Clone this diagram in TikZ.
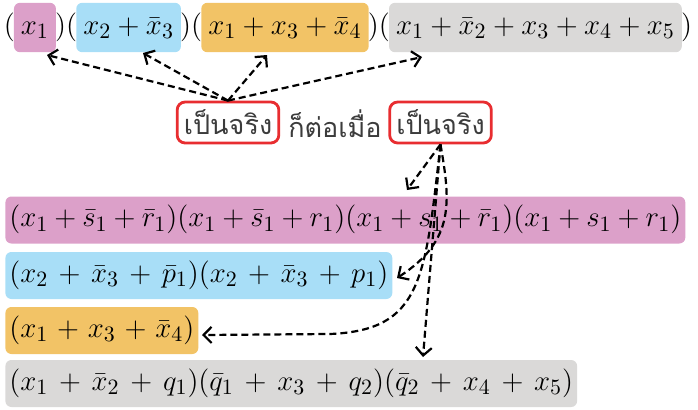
\documentclass[tikz,border=0pt]{standalone}
\usepackage{fontspec}
\newfontfamily\thaifont[Script=Thai]{Loma}
\usetikzlibrary{arrows.meta, positioning}
\definecolor{pinkhl}{RGB}{220,160,201}
\definecolor{bluehl}{RGB}{168,222,247}
\definecolor{orangehl}{RGB}{242,195,102}
\definecolor{grayhl}{RGB}{218,217,216}
\definecolor{redline}{RGB}{232,45,48}
\definecolor{thaigray}{RGB}{60,60,60}

\begin{document}
\begin{tikzpicture}[
    x=0.5pt, y=-0.5pt,
    every node/.style={font=\fontsize{15}{18}\selectfont},
    cell/.style={fill=#1, rounded corners=3pt, inner xsep=3.5pt, inner ysep=5pt, text height=10.8pt, text depth=3.9pt},
    bare/.style={inner xsep=-0.8pt, inner ysep=5pt, text height=10.8pt, text depth=3.9pt},
    row/.style={fill=#1, rounded corners=3pt, anchor=west, inner xsep=2pt, inner ysep=4.4pt, text height=10.8pt, text depth=3.9pt},
    truebox/.style={draw=redline, line width=1.4pt, rounded corners=4pt, minimum width=50pt, minimum height=20.5pt, font=\thaifont\fontsize{13.5}{15}\selectfont, text=thaigray},
    link/.style={line width=1.1pt, dash pattern=on 3.5pt off 2pt, -{Straight Barb[length=4pt, width=8pt]}}
  ]
    \useasboundingbox (0,0) rectangle (698,409);

    % the formula
    \node[bare, anchor=west] (o1) at (5,27.5) {$($};
    \node[cell=pinkhl, right=0pt of o1] (f1) {$x_1$};
    \node[bare, right=0pt of f1] (o2) {$)($};
    \node[cell=bluehl, right=0pt of o2] (f2) {$x_2+\bar{x}_3$};
    \node[bare, right=0pt of f2] (o3) {$)($};
    \node[cell=orangehl, right=0pt of o3] (f3) {$x_1+x_3+\bar{x}_4$};
    \node[bare, right=0pt of f3] (o4) {$)($};
    \node[cell=grayhl, right=0pt of o4] (f4) {$x_1+\bar{x}_2+x_3+x_4+x_5$};
    \node[bare, right=0pt of f4] (o5) {$)$};

    % the sentence
    \node[truebox] (q1) at (228,122.5) {เป็นจริง};
    \node[font=\thaifont\fontsize{13.5}{15}\selectfont, text=thaigray] (iff) at (335,124) {ก็ต่อเมื่อ};
    \node[truebox] (q2) at (440.5,122.5) {เป็นจริง};

    % the clauses
    \node[row=pinkhl] (g1) at (5,220) {$\medmuskip=3.8mu (x_1+\bar{s}_1+\bar{r}_1)(x_1+\bar{s}_1+r_1)(x_1+s_1+\bar{r}_1)(x_1+s_1+r_1)$};
    \node[row=bluehl] (g2) at (5,275.5) {$\medmuskip=6.5mu (x_2+\bar{x}_3+\bar{p}_1)(x_2+\bar{x}_3+p_1)$};
    \node[row=orangehl] (g3) at (5,330.5) {$\medmuskip=5.5mu (x_1+x_3+\bar{x}_4)$};
    \node[row=grayhl] (g4) at (5,383.5) {$\medmuskip=6.7mu (x_1+\bar{x}_2+q_1)(\bar{q}_1+x_3+q_2)(\bar{q}_2+x_4+x_5)$};

    \coordinate (t1) at (47,55);
    \coordinate (t2) at (143,53);
    \coordinate (t3) at (267,55);
    \coordinate (t4) at (422,57);
    \coordinate (u1) at (407,190);
    \coordinate (u2) at (397,278);
    \coordinate (u3) at (202,335);
    \coordinate (u4) at (423,357);

    \draw[link] (q1.north) -- (t1);
    \draw[link] (q1.north) -- (t2);
    \draw[link] (q1.north) -- (t3);
    \draw[link] (q1.north) -- (t4);

    \draw[link] (q2.south) -- (u1);
    \draw[link] (q2.south) .. controls (450,200) and (456,240) .. (u2);
    \draw[link] (q2.south) .. controls (425,280) and (422,330) .. (330,334) -- (u3);
    \draw[link] (q2.south) -- (u4);
\end{tikzpicture}
\end{document}
